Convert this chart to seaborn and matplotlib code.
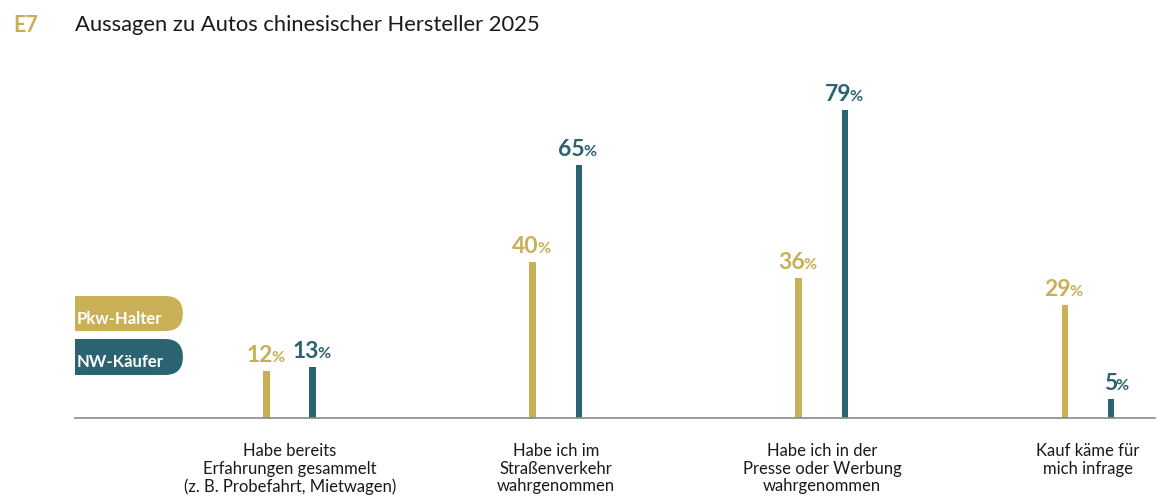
import matplotlib
matplotlib.use("Agg")
import matplotlib.pyplot as plt
import seaborn as sns
import pandas as pd
from matplotlib.patches import FancyBboxPatch, Rectangle
from matplotlib.transforms import offset_copy

categories = [
    "Habe bereits\nErfahrungen gesammelt\n(z. B. Probefahrt, Mietwagen)",
    "Habe ich im\nStraßenverkehr\nwahrgenommen",
    "Habe ich in der\nPresse oder Werbung\nwahrgenommen",
    "Kauf käme für\nmich infrage",
]
series_names = ["Pkw-Halter", "NW-Käufer"]
pkw_halter = [12, 40, 36, 29]
nw_kaeufer = [13, 65, 79, 5]
title = "Aussagen zu Autos chinesischer Hersteller 2025"
chart_id = "E7"

GOLD = "#C9AF55"
TEAL = "#2C6372"
TEXT = "#1a1a1a"

df = pd.DataFrame({
    "Kategorie": categories * 2,
    "Gruppe": [series_names[0]] * 4 + [series_names[1]] * 4,
    "Wert": pkw_halter + nw_kaeufer,
})

sns.set_theme(style="white")
plt.rcParams["font.family"] = ["Lato", "DejaVu Sans"]

W, H = 1168, 500
fig = plt.figure(figsize=(W / 100, H / 100), dpi=100)
ax = fig.add_axes([75 / W, 1 - 418 / H, (1155 - 75) / W, (418 - 60) / H])

sns.barplot(data=df, x="Kategorie", y="Wert", hue="Gruppe",
            palette=[GOLD, TEAL], width=0.346, gap=0.85, ax=ax,
            legend=False, saturation=1, linewidth=0, errorbar=None)

ax.set_xlim(-0.808, 3.252)
ax.set_ylim(0, 91.8)
for s in ["top", "right", "left"]:
    ax.spines[s].set_visible(False)
ax.spines["bottom"].set_color("#8a8a8a")
ax.spines["bottom"].set_linewidth(1.2)
ax.set_yticks([])
ax.set_xlabel("")
ax.set_ylabel("")
ax.tick_params(axis="x", length=0, pad=18)
for lbl in ax.get_xticklabels():
    lbl.set_fontsize(12)
    lbl.set_color(TEXT)
    lbl.set_linespacing(1.12)
    lbl.set_verticalalignment("top")

# value labels
for patch in ax.patches:
    h = patch.get_height()
    if h is None or h == 0:
        continue
    xc = patch.get_x() + patch.get_width() / 2
    col = patch.get_facecolor()
    tr_num = offset_copy(ax.transData, fig=fig, x=6, y=9, units="dots")
    tr_pct = offset_copy(ax.transData, fig=fig, x=4, y=9, units="dots")
    ax.text(xc, h, f"{int(round(h))}", transform=tr_num, ha="right", va="baseline",
            fontsize=16.5, fontweight="bold", color=col)
    ax.text(xc, h, "%", transform=tr_pct, ha="left", va="baseline",
            fontsize=11.5, fontweight="bold", color=col)

# title
fig.text(13 / W, 1 - 25 / H, chart_id, fontsize=15.5, fontweight="bold", color=GOLD, va="center", ha="left")
fig.text(75 / W, 1 - 25 / H, title, fontsize=15.8, color=TEXT, va="center", ha="left")

# legend pills
def pill(y_top, y_bot, color, label):
    x0, x1 = 75, 183
    r = (y_bot - y_top) / 2
    fig.patches.append(Rectangle((x0 / W, 1 - y_bot / H), (x1 - r - x0) / W, (y_bot - y_top) / H,
                                 transform=fig.transFigure, facecolor=color, edgecolor="none"))
    fig.patches.append(FancyBboxPatch(((x1 - 2 * r) / W + 0.0001, 1 - y_bot / H), (2 * r) / W - 0.0002,
                                      (y_bot - y_top) / H,
                                      boxstyle=f"round,pad=0,rounding_size={r / W}",
                                      transform=fig.transFigure, facecolor=color, edgecolor="none",
                                      mutation_aspect=W / H))
    fig.text(77 / W, 1 - (y_top + y_bot) / 2 / H - 5 / H, label, fontsize=12, fontweight="bold",
             color="white", va="center", ha="left")

pill(296, 331, GOLD, series_names[0])
pill(339, 375, TEAL, series_names[1])

fig.savefig("out.png", dpi=100, facecolor="white")
